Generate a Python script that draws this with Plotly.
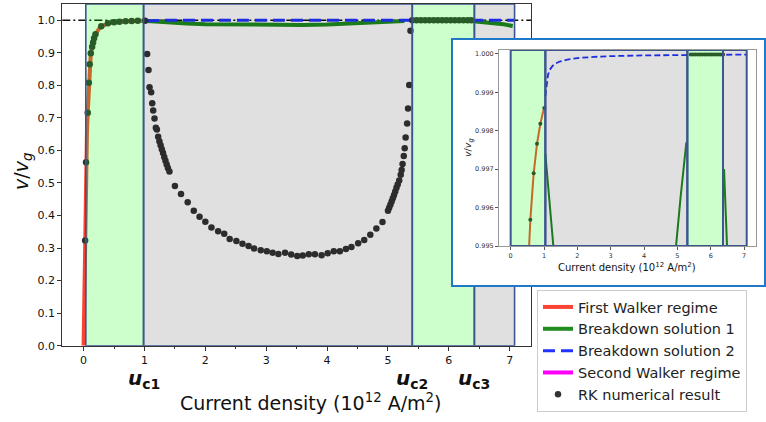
import plotly.graph_objects as go

# ---------------- data ----------------
# First Walker regime (analytic curve)
walker_u = [0.0, 0.01, 0.02, 0.03, 0.04, 0.055, 0.068, 0.085, 0.10, 0.118, 0.14, 0.17,
            0.20, 0.25, 0.30, 0.40, 0.50, 0.59, 0.69, 0.79, 0.89, 1.0]
walker_v = [0.0, 0.16, 0.32, 0.47, 0.564, 0.655, 0.716, 0.805, 0.862, 0.897, 0.918, 0.943,
            0.958, 0.973, 0.982, 0.9905, 0.9940, 0.99568, 0.99689, 0.99766, 0.99818, 0.99859]

# Breakdown solution 1 (two branches, separated by a gap)
bd1_u = [1.04, 1.10, 1.22, 1.40, 1.70, 2.00, 2.50, 3.00, 3.30, 3.60, 4.00, 4.30, 4.50,
         4.80, 4.95, 5.10, 5.27, None, 6.40, 6.52, 6.70, 6.90, 7.05]
bd1_v = [0.9974, 0.9966, 0.9950, 0.9928, 0.9898, 0.9878, 0.9862, 0.9855, 0.9854, 0.9857,
         0.9868, 0.9888, 0.9903, 0.9935, 0.9950, 0.9963, 0.9977, None, 0.9970, 0.9950,
         0.9920, 0.9875, 0.9825]

# Breakdown solution 2
bd2_u = [1.04, 1.08, 1.12, 1.17, 1.25, 1.35, 1.47, 1.70, 2.00, 2.50, 3.00, 4.00, 5.00,
         6.00, 7.08]
bd2_v = [0.9989, 0.99925, 0.99945, 0.99958, 0.99968, 0.99975, 0.9998, 0.99985, 0.99989,
         0.99992, 0.99994, 0.99996, 0.99997, 0.99998, 0.99998]

# RK numerical result
rk_u = [0.025, 0.040, 0.068, 0.085, 0.100, 0.118, 0.140, 0.156, 0.172, 0.195, 0.29, 0.40,
        0.50, 0.59, 0.69, 0.79, 0.89, 1.01,
        1.044, 1.066, 1.083, 1.110, 1.127, 1.143, 1.165, 1.187, 1.204, 1.225, 1.245, 1.265,
        1.285, 1.305, 1.325, 1.345, 1.365, 1.385, 1.410, 1.50, 1.60, 1.71, 1.81, 1.905,
        2.00, 2.10, 2.21, 2.31, 2.40, 2.51, 2.61, 2.71, 2.80, 2.91, 3.01, 3.105, 3.20, 3.31,
        3.41, 3.51, 3.60, 3.70, 3.80, 3.91, 4.01, 4.11, 4.21, 4.31, 4.40, 4.51, 4.61, 4.71,
        4.81, 4.91, 5.00, 5.02, 5.04, 5.06, 5.08, 5.10, 5.12, 5.14, 5.16, 5.185, 5.21,
        5.225, 5.24, 5.26, 5.275, 5.29, 5.315, 5.33, 5.35, 5.37,
        5.40, 5.47, 5.54, 5.61, 5.68, 5.75, 5.82, 5.89, 5.96, 6.03, 6.10, 6.17, 6.24,
        6.31, 6.37]
rk_v = [0.323, 0.564, 0.716, 0.808, 0.865, 0.899, 0.919, 0.932, 0.945, 0.957, 0.982, 0.9905,
        0.9940, 0.99568, 0.99689, 0.99766, 0.99818, 0.99859,
        0.896, 0.847, 0.794, 0.779, 0.745, 0.723, 0.698, 0.670, 0.664, 0.642, 0.628, 0.616,
        0.604, 0.592, 0.580, 0.568, 0.557, 0.546, 0.535, 0.491, 0.466, 0.441, 0.415, 0.396,
        0.381, 0.363, 0.352, 0.344, 0.328, 0.322, 0.313, 0.306, 0.299, 0.293, 0.290, 0.286,
        0.282, 0.286, 0.280, 0.276, 0.277, 0.281, 0.281, 0.278, 0.284, 0.290, 0.290, 0.297,
        0.303, 0.315, 0.325, 0.341, 0.360, 0.380, 0.415, 0.424, 0.433, 0.443, 0.453, 0.463,
        0.474, 0.485, 0.495, 0.508, 0.525, 0.540, 0.558, 0.583, 0.607, 0.640, 0.683, 0.729,
        0.801, 0.968,
        0.99998, 0.99998, 0.99998, 0.99998, 0.99998, 0.99998, 0.99998, 0.99998, 0.99998,
        0.99998, 0.99998, 0.99998, 0.99998, 0.99998, 0.99998]

# regime boundaries (green = Walker, gray = breakdown)
main_bounds = [0.036, 0.985, 5.40, 6.42, 7.08]
inset_bounds = [0.0, 1.04, 5.30, 6.37, 7.08]
crit_labels = ["c1", "c2", "c3"]
ref_level = 1.0

main_xrange = [-0.35, 7.35]
main_yrange = [0.0, 1.05]
inset_yrange = [0.995, 1.0001]
x_ticks = [0, 1, 2, 3, 4, 5, 6, 7]
main_yticks = [0.0, 0.1, 0.2, 0.3, 0.4, 0.5, 0.6, 0.7, 0.8, 0.9, 1.0]
inset_yticks = [0.995, 0.996, 0.997, 0.998, 0.999, 1.000]

# ---------------- styling ----------------
W, H = 766, 422
FONT = "DejaVu Sans"
C_WALKER = "#fa4332"
C_BD1 = "#1e8c1e"
C_BD2 = "#2233ff"
C_WALKER2 = "#ff00ff"
C_RK = "#333333"
C_EDGE = "#3a5590"
GREEN_TINT = "rgba(0,255,0,0.2)"
GRAY_TINT = "rgba(0,0,0,0.12)"


def px_x(p):
    return p / W


def px_y(p):
    return 1 - p / H


def rect_poly(pairs, y0, y1):
    xs, ys = [], []
    for a, b in pairs:
        xs += [a, b, b, a, a, None]
        ys += [y0, y0, y1, y1, y0, None]
    return xs, ys


fig = go.Figure()

# ---------- main plot ----------
fig.add_trace(go.Scatter(x=walker_u, y=walker_v, mode="lines", name="First Walker regime",
                         line=dict(color=C_WALKER, width=4), xaxis="x", yaxis="y"))
fig.add_trace(go.Scatter(x=bd1_u, y=bd1_v, mode="lines", name="Breakdown solution 1",
                         line=dict(color=C_BD1, width=4), xaxis="x", yaxis="y"))
fig.add_trace(go.Scatter(x=bd2_u, y=bd2_v, mode="lines", name="Breakdown solution 2",
                         line=dict(color=C_BD2, width=3, dash="12px,6px"), xaxis="x", yaxis="y"))
fig.add_trace(go.Scatter(x=[None], y=[None], mode="lines", name="Second Walker regime",
                         line=dict(color=C_WALKER2, width=4), xaxis="x", yaxis="y"))
fig.add_trace(go.Scatter(x=rk_u, y=rk_v, mode="markers", name="RK numerical result",
                         marker=dict(color=C_RK, size=6.5), xaxis="x", yaxis="y"))

b = main_bounds
gx, gy = rect_poly([(b[0], b[1]), (b[2], b[3])], main_yrange[0], main_yrange[1])
fig.add_trace(go.Scatter(x=gx, y=gy, mode="lines", fill="toself", fillcolor=GREEN_TINT,
                         line=dict(color=C_EDGE, width=1.6), showlegend=False,
                         hoverinfo="skip", xaxis="x", yaxis="y"))
gx, gy = rect_poly([(b[1], b[2]), (b[3], b[4])], main_yrange[0], main_yrange[1])
fig.add_trace(go.Scatter(x=gx, y=gy, mode="lines", fill="toself", fillcolor=GRAY_TINT,
                         line=dict(color=C_EDGE, width=1.6), showlegend=False,
                         hoverinfo="skip", xaxis="x", yaxis="y"))

# ---------- inset frame (white box) ----------
fig.add_trace(go.Scatter(x=[None], y=[None], showlegend=False, hoverinfo="skip",
                         xaxis="x2", yaxis="y2"))

# ---------- inset plot ----------
fig.add_trace(go.Scatter(x=walker_u, y=walker_v, mode="lines", showlegend=False,
                         line=dict(color=C_WALKER, width=2), xaxis="x3", yaxis="y3"))
fig.add_trace(go.Scatter(x=bd1_u, y=bd1_v, mode="lines", showlegend=False,
                         line=dict(color=C_BD1, width=2), xaxis="x3", yaxis="y3"))
fig.add_trace(go.Scatter(x=bd2_u, y=bd2_v, mode="lines", showlegend=False,
                         line=dict(color=C_BD2, width=1.8, dash="6px,3px"), xaxis="x3", yaxis="y3"))
fig.add_trace(go.Scatter(x=rk_u, y=rk_v, mode="markers", showlegend=False,
                         marker=dict(color=C_RK, size=4), xaxis="x3", yaxis="y3"))
ib = inset_bounds
gx, gy = rect_poly([(ib[0], ib[1]), (ib[2], ib[3])], inset_yrange[0], inset_yrange[1])
fig.add_trace(go.Scatter(x=gx, y=gy, mode="lines", fill="toself", fillcolor=GREEN_TINT,
                         line=dict(color=C_EDGE, width=2), showlegend=False,
                         hoverinfo="skip", xaxis="x3", yaxis="y3"))
gx, gy = rect_poly([(ib[1], ib[2]), (ib[3], ib[4])], inset_yrange[0], inset_yrange[1])
fig.add_trace(go.Scatter(x=gx, y=gy, mode="lines", fill="toself", fillcolor=GRAY_TINT,
                         line=dict(color=C_EDGE, width=2), showlegend=False,
                         hoverinfo="skip", xaxis="x3", yaxis="y3"))

# reference lines at v/vg = 1
shapes = [
    dict(type="line", xref="x domain", yref="y", x0=0, x1=1, y0=ref_level, y1=ref_level,
         layer="below", line=dict(color="#111111", width=1.5, dash="8px,3px,2px,3px")),
    dict(type="line", xref="x3 domain", yref="y3", x0=0, x1=1, y0=ref_level, y1=ref_level,
         layer="below", line=dict(color="#222222", width=1, dash="6px,2px,1.5px,2px")),
]

axis_common = dict(showgrid=False, zeroline=False, fixedrange=True, automargin=False)

annotations = []
for bx, lab in zip(main_bounds[1:4], crit_labels):
    annotations.append(dict(x=bx, xref="x", y=px_y(379), yref="paper",
                            xanchor="center", yanchor="middle",
                            text=f"<b><i>u</i><sub>{lab}</sub></b>", showarrow=False,
                            font=dict(family=FONT, size=20, color="#111111")))
annotations += [
    dict(x=px_x(310), y=px_y(402), xref="paper", yref="paper", showarrow=False,
         xanchor="center", yanchor="middle",
         text="Current density (10<sup>12</sup> A/m<sup>2</sup>)",
         font=dict(family=FONT, size=19, color="#111111")),
    dict(x=px_x(22), y=px_y(172), xref="paper", yref="paper", showarrow=False, textangle=-90,
         xanchor="center", yanchor="middle",
         text="<i>v</i>/<i>v</i><sub><i>g</i></sub>",
         font=dict(family=FONT, size=19, color="#111111")),
    dict(x=px_x(627), y=px_y(267), xref="paper", yref="paper", showarrow=False,
         xanchor="center", yanchor="middle",
         text="Current density (10<sup>12</sup> A/m<sup>2</sup>)",
         font=dict(family=FONT, size=10, color="#111111")),
    dict(x=px_x(468), y=px_y(148), xref="paper", yref="paper", showarrow=False, textangle=-90,
         xanchor="center", yanchor="middle",
         text="<i>v</i>/<i>v</i><sub><i>g</i></sub>",
         font=dict(family=FONT, size=9.5, color="#111111")),
]

fig.update_layout(
    width=W, height=H,
    margin=dict(l=0, r=0, t=0, b=0),
    paper_bgcolor="white", plot_bgcolor="white",
    font=dict(family=FONT, size=11, color="#111111"),
    xaxis=dict(domain=[px_x(62.3), px_x(531)], range=main_xrange, anchor="y",
               tickmode="array", tickvals=x_ticks, ticks="outside", ticklen=4, tickwidth=1,
               tickcolor="#333333", showline=True, linecolor="#333333", linewidth=1,
               mirror=True, tickfont=dict(size=11),
               minor=dict(ticks="outside", ticklen=2, tickwidth=1, dtick=0.5,
                          tickcolor="#333333", showgrid=False),
               **axis_common),
    yaxis=dict(domain=[px_y(345.7), px_y(4)], range=main_yrange, anchor="x",
               tickmode="array", tickvals=main_yticks, tickformat=".1f", ticks="outside",
               ticklen=4, tickwidth=1, tickcolor="#333333", showline=True,
               linecolor="#333333", linewidth=1, mirror=True, tickfont=dict(size=11),
               **axis_common),
    xaxis2=dict(domain=[px_x(453), px_x(764)], range=[0, 1], anchor="y2",
                showline=True, mirror=True, linecolor="#1f78c8", linewidth=2,
                showticklabels=False, ticks="", **axis_common),
    yaxis2=dict(domain=[px_y(285), px_y(40)], range=[0, 1], anchor="x2",
                showline=True, mirror=True, linecolor="#1f78c8", linewidth=2,
                showticklabels=False, ticks="", **axis_common),
    xaxis3=dict(domain=[px_x(499), px_x(755.7)], range=main_xrange, anchor="y3",
                tickmode="array", tickvals=x_ticks, ticks="outside", ticklen=3, tickwidth=1,
                tickcolor="#555555", showline=True, linecolor="#999999", linewidth=1,
                mirror=True, tickfont=dict(size=6.5, color="#333333"), **axis_common),
    yaxis3=dict(domain=[px_y(246), px_y(50)], range=inset_yrange, anchor="x3",
                tickmode="array", tickvals=inset_yticks, tickformat=".3f", ticks="outside",
                ticklen=3, tickwidth=1, tickcolor="#555555", showline=True,
                linecolor="#999999", linewidth=1, mirror=True,
                tickfont=dict(size=6.5, color="#333333"), **axis_common),
    legend=dict(x=px_x(537), y=px_y(290), xanchor="left", yanchor="top",
                bgcolor="white", bordercolor="#cccccc", borderwidth=1,
                font=dict(family=FONT, size=14.5, color="#222222"), tracegroupgap=0),
    shapes=shapes,
    annotations=annotations,
    showlegend=True,
)

fig.write_html("out.html")
